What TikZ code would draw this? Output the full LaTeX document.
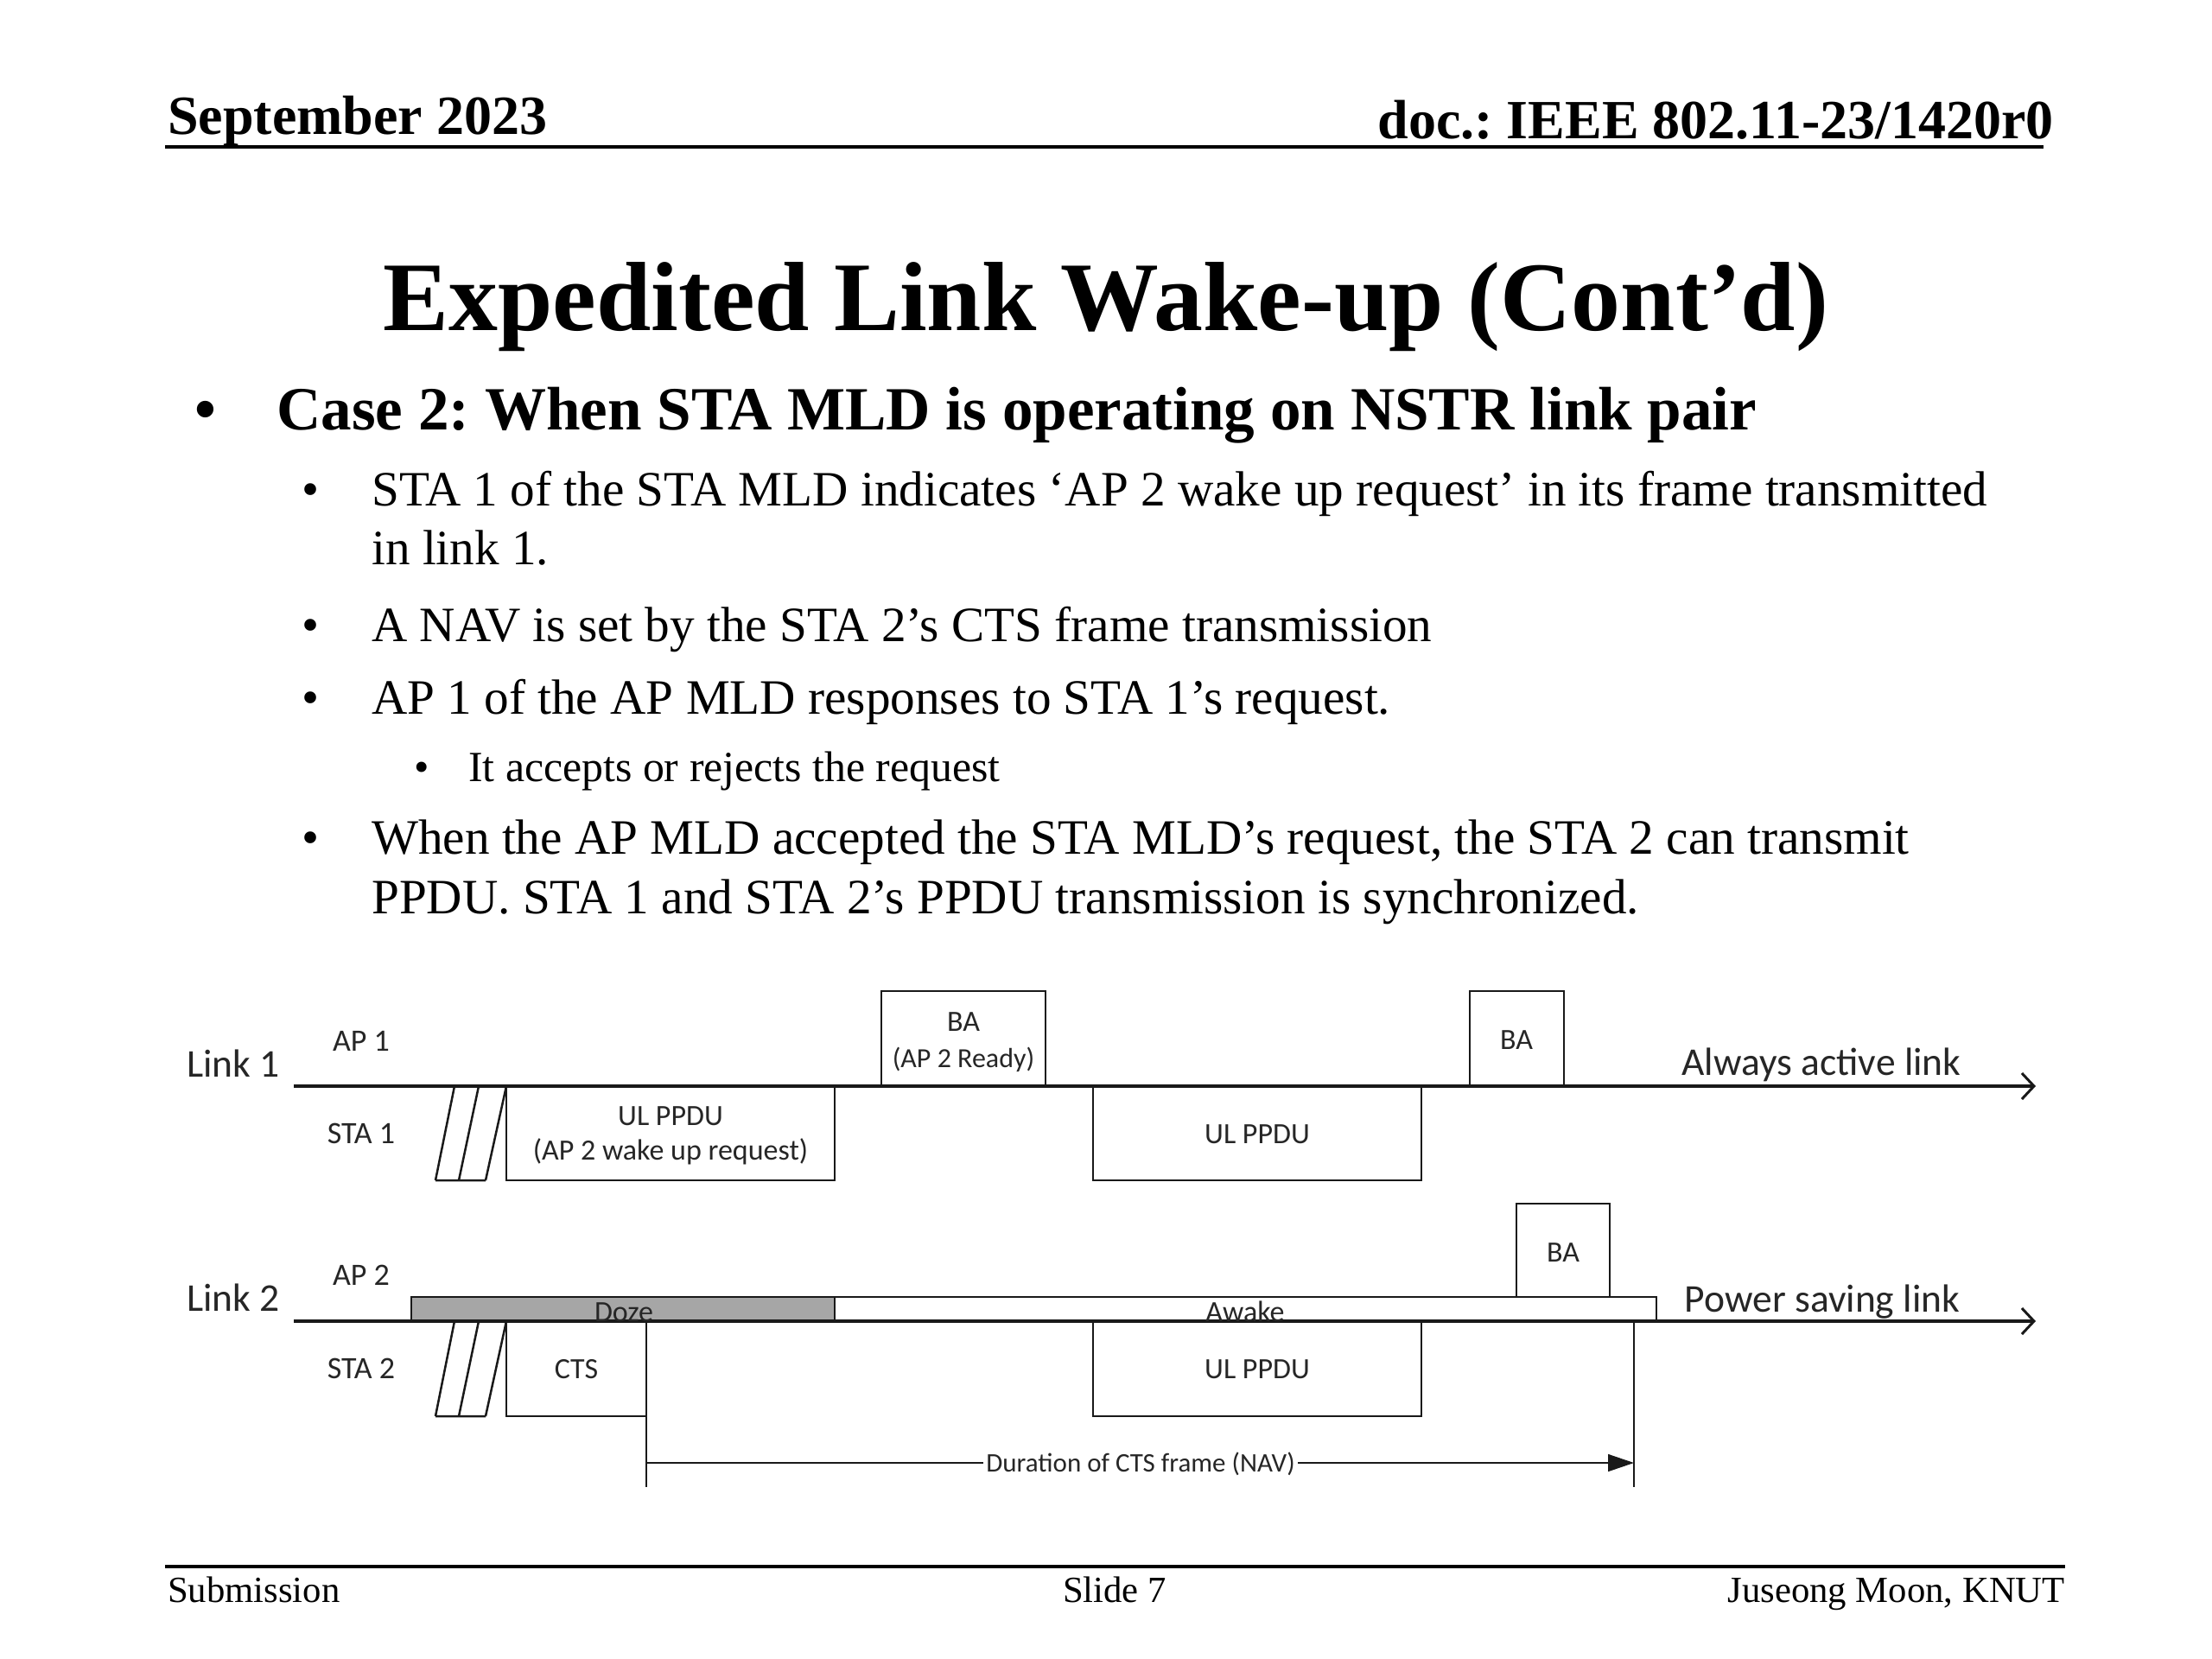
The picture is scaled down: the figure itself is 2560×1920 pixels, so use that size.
\documentclass[tikz,border=0pt]{standalone}
\usepackage{fontspec}
\setmainfont{Liberation Serif}
\newfontfamily\diagfont{Carlito}
\usetikzlibrary{arrows.meta}
\frenchspacing
\tikzset{
  slide/.style={inner sep=0pt, anchor=base west},
  hdr/.style={font=\fontsize{64}{70}\selectfont\bfseries},
  ttl/.style={font=\fontsize{113.8}{120}\selectfont\bfseries},
  lvla/.style={font=\fontsize{71.1}{80}\selectfont\bfseries},
  lvlb/.style={font=\fontsize{57.2}{64}\selectfont},
  lvlc/.style={font=\fontsize{49.8}{56}\selectfont},
  ftr/.style={font=\fontsize{42.7}{48}\selectfont},
  rulebar/.style={line width=4pt},
  lab/.style={inner sep=0pt, anchor=base, text=black!85, font=\diagfont\fontsize{36}{40}\selectfont},
  boxtxt/.style={inner sep=0pt, anchor=base, text=black!85, font=\diagfont\fontsize{34}{38}\selectfont},
  biglab/.style={inner sep=0pt, anchor=base, text=black!85, font=\diagfont\fontsize{45.5}{50}\selectfont},
  navtxt/.style={inner sep=0pt, inner xsep=3pt, anchor=base, fill=white, text=black!85, font=\diagfont\fontsize{31}{34}\selectfont},
  frame/.style={draw=black!90, line width=2.5pt, fill=white},
  dozebar/.style={draw=black!90, line width=2.5pt, fill=black!35},
  strip/.style={draw=black!90, line width=2.5pt},
  timeaxis/.style={draw=black!90, line width=3.5pt, -{Straight Barb[length=14pt,width=30pt,line width=3pt]}},
  navline/.style={draw=black!90, line width=1.5pt, -{Triangle[length=30pt,width=20pt]}},
}
\begin{document}
\begin{tikzpicture}[x=1pt,y=-1pt]
\useasboundingbox (0,0) rectangle (2560,1920);

% ---------- header ----------
\node[slide, hdr] (hleft) at (194,155) {September 2023};
\node[inner sep=0pt, anchor=base east, hdr] (hright) at (2377,160) {doc.: IEEE 802.11-23/1420r0};
\draw[rulebar] (191,170) -- (2365,170);

% ---------- title ----------
\node[inner sep=0pt, anchor=base, ttl] (title) at (1280,382) {Expedited Link Wake-up (Cont’d)};

% ---------- bullets ----------
\node[inner sep=0pt, anchor=base, lvla] (b0) at (238,497) {•};
\node[slide, lvla] (t0) at (320,497) {Case 2: When STA MLD is operating on NSTR link pair};

\node[inner sep=0pt, anchor=base, lvlb] (b1) at (360,585) {•};
\node[slide, lvlb] (t1) at (430,585) {STA 1 of the STA MLD indicates ‘AP 2 wake up request’ in its frame transmitted};
\node[slide, lvlb] (t1b) at (430,653) {in link 1.};

\node[inner sep=0pt, anchor=base, lvlb] (b2) at (360,742) {•};
\node[slide, lvlb] (t2) at (430,742) {A NAV is set by the STA 2’s CTS frame transmission};

\node[inner sep=0pt, anchor=base, lvlb] (b3) at (360,826) {•};
\node[slide, lvlb] (t3) at (430,826) {AP 1 of the AP MLD responses to STA 1’s request.};

\node[inner sep=0pt, anchor=base, lvlc] (b4) at (488,904) {•};
\node[slide, lvlc] (t4) at (542,904) {It accepts or rejects the request};

\node[inner sep=0pt, anchor=base, lvlb] (b5) at (360,988) {•};
\node[slide, lvlb] (t5) at (430,988) {When the AP MLD accepted the STA MLD’s request, the STA 2 can transmit};
\node[slide, lvlb] (t5b) at (430,1057) {PPDU. STA 1 and STA 2’s PPDU transmission is synchronized.};

% ---------- footer ----------
\draw[rulebar] (191,1813) -- (2390,1813);
\node[slide, ftr] (fleft) at (194,1854) {Submission};
\node[inner sep=0pt, anchor=base, ftr] (fmid) at (1290,1854) {Slide 7};
\node[inner sep=0pt, anchor=base east, ftr] (fright) at (2390,1854) {Juseong Moon, KNUT};

% ---------- diagram: link 2 state bars ----------
\draw[dozebar] (476,1501) rectangle (966,1529);
\draw[frame] (966,1501) rectangle (1917,1529);

% ---------- frames ----------
% Link 1
\draw[frame] (586,1257) rectangle (966,1366);
\draw[frame] (1020,1147) rectangle (1210,1257);
\draw[frame] (1265,1257) rectangle (1645,1366);
\draw[frame] (1701,1147) rectangle (1810,1257);
% Link 2
\draw[frame] (586,1529) rectangle (748,1639);
\draw[frame] (1265,1529) rectangle (1645,1639);
\draw[frame] (1755,1393) rectangle (1863,1501);

% slanted break strips
\draw[strip] (504,1366) -- (526,1257) (531,1366) -- (554,1257) (562,1366) -- (586,1257) (504,1366) -- (562,1366);
\draw[strip] (504,1639) -- (526,1529) (531,1639) -- (554,1529) (562,1639) -- (586,1529) (504,1639) -- (562,1639);

% NAV markers
\draw[strip] (748,1639) -- (748,1721);
\draw[strip] (1891,1529) -- (1891,1721);
\coordinate (navstart) at (748,1693);
\coordinate (navend) at (1891,1693);
\draw[navline] (navstart) -- (navend);
\node[navtxt] (navlabel) at (1320,1703) {Duration of CTS frame (NAV)};

% time axes
\coordinate (ax1s) at (340,1257);
\coordinate (ax1e) at (2356,1257);
\coordinate (ax2s) at (340,1529);
\coordinate (ax2e) at (2356,1529);
\draw[timeaxis] (ax1s) -- (ax1e);
\draw[timeaxis] (ax2s) -- (ax2e);

% ---------- diagram labels ----------
\node[biglab] (link1) at (270,1246) {Link 1};
\node[biglab] (link2) at (270,1517) {Link 2};
\node[lab] (ap1) at (418,1216) {AP 1};
\node[lab] (sta1) at (418,1323) {STA 1};
\node[lab] (ap2) at (418,1487) {AP 2};
\node[lab] (sta2) at (418,1595) {STA 2};
\node[biglab] (always) at (2108,1244) {Always active link};
\node[biglab] (psave) at (2109,1518) {Power saving link};

\node[boxtxt] (ul1a) at (776,1302) {UL PPDU};
\node[boxtxt] (ul1b) at (776,1342) {(AP 2 wake up request)};
\node[boxtxt] (ba1a) at (1115,1193) {BA};
\node[boxtxt, font=\diagfont\fontsize{32}{36}\selectfont] (ba1b) at (1115,1235) {(AP 2 Ready)};
\node[boxtxt] (ul2) at (1455,1323) {UL PPDU};
\node[boxtxt] (ba2) at (1755,1214) {BA};
\node[boxtxt] (cts) at (667,1595) {CTS};
\node[boxtxt] (ul3) at (1455,1595) {UL PPDU};
\node[boxtxt] (ba3) at (1809,1460) {BA};
\node[boxtxt] (doze) at (722,1529) {Doze};
\node[boxtxt] (awake) at (1441,1529) {Awake};
\end{tikzpicture}
\end{document}
